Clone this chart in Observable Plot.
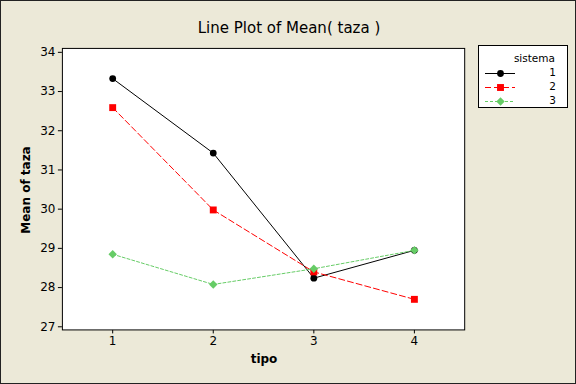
<!DOCTYPE html>
<html>
<head>
<meta charset="utf-8">
<script src="https://cdn.jsdelivr.net/npm/d3@7"></script>
<script src="https://cdn.jsdelivr.net/npm/@observablehq/plot@0.6"></script>
<style>
  html, body { margin: 0; padding: 0; background: #ECE9D8; }
  #wrap { position: relative; width: 576px; height: 384px; box-sizing: border-box;
          border: 1px solid #222; background: #ECE9D8; overflow: hidden;
          font-family: "DejaVu Sans", sans-serif; color: #000; }
  #chart { position: absolute; left: -1px; top: -1px; }
  .lbl { position: absolute; white-space: nowrap; }
  #title { left: 0; width: 576px; top: 18px; text-align: center; font-size: 15px; }
  #xlab { left: 213px; width: 100px; top: 351px; text-align: center; font-size: 12px; font-weight: bold; }
  #ylab { left: 25px; top: 189px; font-size: 12px; font-weight: bold; transform: translate(-50%, -50%) rotate(-90deg); }
  #legend { position: absolute; left: 477px; top: 44px; width: 90px; height: 63px; box-sizing: border-box;
            border: 1px solid #000; background: #fff; font-size: 10.5px; }
  #legend .head { position: absolute; right: 12px; top: 6px; }
  #legend .row { position: absolute; left: 0; width: 90px; height: 12px; }
  #legend .row svg { position: absolute; left: 5px; top: 0; }
  #legend .row span { position: absolute; right: 13px; top: -1px; }
</style>
</head>
<body>
<div id="wrap">
  <div id="chart"></div>
  <div id="title" class="lbl">Line Plot of Mean( taza )</div>
  <div id="xlab" class="lbl">tipo</div>
  <div id="ylab" class="lbl">Mean of taza</div>
  <div id="legend"><div class="head">sistema</div></div>
</div>
<script>
// ---- data ----
const tipo = [1, 2, 3, 4];
const sistemas = ["1", "2", "3"];
const sistema1 = [33.33, 31.43, 28.24, 28.95];
const sistema2 = [32.59, 29.98, 28.40, 27.70];
const sistema3 = [28.85, 28.08, 28.48, 28.95];
const yTicks = [27, 28, 29, 30, 31, 32, 33, 34];

// ---- styles per series ----
const styles = {
  "1": {color: "#000000", dash: null, symbol: "circle", r: 3.4},
  "2": {color: "#FF0000", dash: "6,3", symbol: "square", r: 3.9},
  "3": {color: "#66CC66", dash: "3,2", symbol: "diamond2", r: 3.8}
};

const values = {"1": sistema1, "2": sistema2, "3": sistema3};
const data = sistemas.flatMap(s => tipo.map((t, i) => ({tipo: t, mean: values[s][i], sistema: s})));

const marks = [Plot.frame({fill: "white", stroke: "black"})];
for (const s of sistemas) {
  const d = data.filter(r => r.sistema === s);
  const st = styles[s];
  marks.push(Plot.line(d, {x: "tipo", y: "mean", stroke: st.color, strokeWidth: 1,
    strokeDasharray: st.dash || undefined}));
}
for (const s of sistemas) {
  const d = data.filter(r => r.sistema === s);
  const st = styles[s];
  marks.push(Plot.dot(d, {x: "tipo", y: "mean", fill: st.color, stroke: "none",
    symbol: st.symbol, r: st.r}));
}

const chart = Plot.plot({
  width: 576, height: 384,
  marginLeft: 62, marginRight: 111, marginTop: 48, marginBottom: 54,
  style: {background: "transparent", fontFamily: "DejaVu Sans, sans-serif", fontSize: "12px", color: "#000"},
  x: {domain: [0.5, 4.5], ticks: tipo, tickFormat: d => String(d), label: null, tickSize: 4, tickPadding: 3},
  y: {domain: [26.92, 34.1], ticks: yTicks, tickFormat: d => String(d), label: null, tickSize: 4, tickPadding: 3},
  marks
});
document.getElementById("chart").appendChild(chart);

// ---- legend ----
const legend = document.getElementById("legend");
sistemas.forEach((s, i) => {
  const st = styles[s];
  const row = document.createElement("div");
  row.className = "row";
  row.style.top = (21 + i * 14) + "px";
  const sym = d3.symbol().type({circle: d3.symbolCircle, square: d3.symbolSquare, diamond2: d3.symbolDiamond2}[st.symbol])
    .size(Math.PI * st.r * st.r)();
  row.innerHTML = `<svg width="32" height="12"><line x1="1" x2="31" y1="6.5" y2="6.5" stroke="${st.color}" ${st.dash ? `stroke-dasharray="${st.dash}"` : ""}/>` +
    `<path d="${sym}" transform="translate(16.5,6.5)" fill="${st.color}"/></svg><span>${s}</span>`;
  legend.appendChild(row);
});
</script>
</body>
</html>
